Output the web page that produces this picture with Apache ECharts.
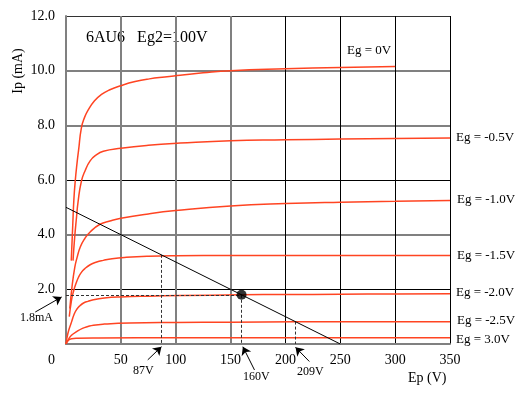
<!DOCTYPE html>
<html>
<head>
<meta charset="utf-8">
<script src="https://cdn.jsdelivr.net/npm/echarts@6/dist/echarts.min.js"></script>
<style>
    html, body { margin: 0; padding: 0; background: #fff; }
    #chart { width: 525px; height: 396px; }
</style>
</head>
<body>
<div id="chart"></div>
<script>
"use strict";

/* ---------- data ---------- */
const curveNames = ["Eg = 0V", "Eg = -0.5V", "Eg = -1.0V", "Eg = -1.5V", "Eg = -2.0V", "Eg = -2.5V", "Eg = 3.0V"];

// [Ep (V), Ip (mA)]
const eg0 = [[4.8, 3.05], [6.2, 4.4], [7.2, 5.3], [8.5, 6.0], [10, 6.6], [11.5, 7.1], [14, 7.9], [17, 8.3], [20, 8.55],
    [26, 8.9], [32, 9.12], [40, 9.3], [50, 9.45], [63, 9.6], [76, 9.7], [90, 9.77], [104, 9.83], [125, 9.92],
    [150, 10.0], [200, 10.07], [250, 10.12], [300, 10.15]];
const egM05 = [[6.4, 3.05], [7.9, 3.9], [9.5, 4.6], [11, 5.2], [14, 5.95], [17.5, 6.35], [22, 6.7], [27, 6.9],
    [34, 7.05], [50, 7.16], [75, 7.27], [104, 7.35], [150, 7.44], [200, 7.47], [250, 7.5], [300, 7.52], [350, 7.54]];
const egM10 = [[3.5, 1.3], [5.5, 2.1], [8, 2.8], [10, 3.15], [13, 3.55], [17, 3.85], [22, 4.1], [31, 4.38], [40, 4.5],
    [50, 4.6], [75, 4.76], [100, 4.88], [150, 5.05], [200, 5.14], [250, 5.19], [300, 5.22], [350, 5.25]];
const egM15 = [[3, 1.0], [5, 1.6], [7, 1.95], [9, 2.2], [11.5, 2.45], [14, 2.62], [17, 2.75], [22, 2.9], [28, 3.0],
    [34, 3.06], [42, 3.12], [55, 3.17], [75, 3.21], [100, 3.23], [150, 3.24], [200, 3.24], [250, 3.24], [300, 3.24], [350, 3.24]];
const egM20 = [[0, 0], [1, 0.25], [2.5, 0.5], [5, 0.8], [7.5, 1.1], [10, 1.28], [12.7, 1.4], [16, 1.5], [20, 1.56],
    [25, 1.62], [35, 1.68], [50, 1.72], [75, 1.75], [104, 1.77], [160, 1.8], [200, 1.81], [250, 1.82], [300, 1.83], [350, 1.84]];
const egM25 = [[0, 0], [2, 0.15], [5, 0.32], [9.7, 0.45], [15, 0.57], [20, 0.64], [25, 0.69], [35, 0.73], [58, 0.77],
    [100, 0.79], [150, 0.8], [209, 0.81], [250, 0.81], [300, 0.81], [350, 0.81]];
const egM30 = [[0, 0], [2, 0.13], [5, 0.19], [10, 0.21], [30, 0.22], [100, 0.23], [200, 0.23], [350, 0.23]];
const curves = [eg0, egM05, egM10, egM15, egM20, egM25, egM30];

// load line 250V / 5mA, operating point, drop lines
const loadLine = [[0, 5.0], [250, 0]];
const opPoint = [160, 1.8];
const dropLines = [
    [[0, 1.8], [160, 1.8]],
    [[160, 1.8], [160, 0]],
    [[87, 3.26], [87, 0]],
    [[209, 0.82], [209, 0]]
];
// annotation arrows: [tail, tip]
const arrows = [
    [[-28, 1.17], [-4, 1.72]],
    [[74.5, -0.58], [87, -0.1]],
    [[171.8, -0.95], [161.2, -0.1]],
    [[221.8, -0.64], [209.2, -0.12]]
];

// tick labels
const xTicks = [0, 50, 100, 150, 200, 250, 300, 350];
const yTicks = [0, 2, 4, 6, 8, 10, 12];

/* ---------- styles ---------- */
const FONT = '"Liberation Serif", "DejaVu Serif", serif';
const RED = "#ff4422";
const GRAY = "#808080";

// text placed around the plot (pixel layout)
const labelPos = [[347, 51], [456, 138], [457, 200], [457, 256], [456, 293], [457, 321], [456, 340]];

function txt(text, x, y, size, extra) {
    return Object.assign({
        type: "text", x: x, y: y,
        style: { text: text, font: size + "px " + FONT, fill: "#000", textAlign: "left", textVerticalAlign: "middle" }
    }, extra || {});
}

const graphics = [
    txt("6AU6   Eg2=100V", 86, 38, 16),
    txt("Ip (mA)", 18, 71, 14, { rotation: Math.PI / 2, style: { text: "Ip (mA)", font: "14px " + FONT, fill: "#000", textAlign: "center", textVerticalAlign: "middle" } }),
    txt("Ep (V)", 408, 378, 14),
    txt("0", 48, 360, 14),
    txt("1.8mA", 20, 318, 12),
    txt("87V", 133, 371, 12),
    txt("160V", 243, 377, 12),
    txt("209V", 297, 372, 12)
].concat(curveNames.map((n, i) => txt(n, labelPos[i][0], labelPos[i][1], 13)));

// grid line colours per tick: thin black set and thick gray set
const yThin = ["transparent", "#000", "transparent", "#000", "transparent", "transparent", "#333"];
const yThick = ["transparent", "transparent", GRAY, "transparent", GRAY, GRAY, "transparent"];
const xThin = ["transparent", "transparent", "transparent", "transparent", "#000", "#000", "#000", "#000"];
const xThick = ["transparent", GRAY, GRAY, GRAY, "transparent", "transparent", "transparent", "transparent"];

const xBase = { type: "value", min: 0, max: 350, interval: 50, axisTick: { show: false } };
const yBase = { type: "value", min: 0, max: 12, interval: 2, axisTick: { show: false } };

const chart = echarts.init(document.getElementById("chart"));
chart.setOption({
    animation: false,
    backgroundColor: "#fff",
    textStyle: { fontFamily: FONT },
    grid: { left: 66, right: 75, top: 16, bottom: 52 },
    xAxis: [
        Object.assign({}, xBase, {
            axisLine: { show: true, lineStyle: { color: GRAY, width: 2 } },
            axisLabel: { color: "#000", fontSize: 14, fontFamily: FONT, margin: 9, formatter: v => (v === 0 ? "" : String(v)) },
            splitLine: { show: true, lineStyle: { color: xThin, width: 1 } }
        }),
        Object.assign({}, xBase, {
            position: "bottom", axisLine: { show: false }, axisLabel: { show: false },
            splitLine: { show: true, lineStyle: { color: xThick, width: 2 } }
        })
    ],
    yAxis: [
        Object.assign({}, yBase, {
            axisLine: { show: true, lineStyle: { color: GRAY, width: 2 } },
            axisLabel: { color: "#000", fontSize: 14, fontFamily: FONT, margin: 11, formatter: v => (v === 0 ? "" : v.toFixed(1)) },
            splitLine: { show: true, lineStyle: { color: yThin, width: 1 } }
        }),
        Object.assign({}, yBase, {
            position: "left", axisLine: { show: false }, axisLabel: { show: false },
            splitLine: { show: true, lineStyle: { color: yThick, width: 2 } }
        })
    ],
    graphic: graphics,
    series: curves.map((c, i) => ({
        name: curveNames[i], type: "line", data: c,
        showSymbol: false, smooth: 0.5,
        lineStyle: { color: RED, width: 1.5 }, z: 3
    })).concat([
        {
            name: "load", type: "line", data: loadLine, showSymbol: false,
            lineStyle: { color: "#000", width: 1 }, z: 4
        },
        {
            name: "drop", type: "lines", coordinateSystem: "cartesian2d", z: 4,
            lineStyle: { color: "#333", width: 1, type: [3, 2], opacity: 1 },
            data: dropLines.map(d => ({ coords: d }))
        },
        {
            name: "arrows", type: "lines", coordinateSystem: "cartesian2d", clip: false, z: 5,
            symbol: ["none", "arrow"], symbolSize: [0, 8],
            lineStyle: { color: "#000", width: 1, opacity: 1 },
            itemStyle: { color: "#000" },
            data: arrows.map(a => ({ coords: a }))
        },
        {
            name: "op", type: "scatter", data: [opPoint], symbolSize: 10,
            itemStyle: { color: "#000" }, z: 6
        }
    ])
});
</script>
</body>
</html>
